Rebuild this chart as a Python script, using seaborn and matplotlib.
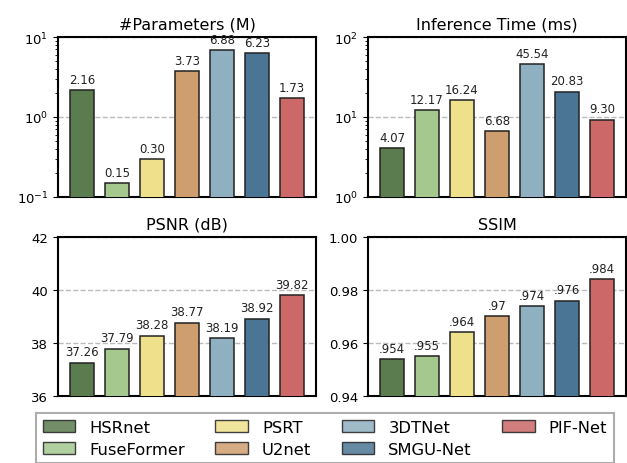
import matplotlib
matplotlib.use("Agg")
import matplotlib.pyplot as plt
import seaborn as sns
import pandas as pd
from matplotlib.patches import Patch

models = ["HSRnet", "FuseFormer", "PSRT", "U2net", "3DTNet", "SMGU-Net", "PIF-Net"]
colors = ["#5b7c4f", "#a4c88e", "#efe08b", "#cf9e6f", "#8eb0c0", "#4b7594", "#cc6868"]

params = [2.16, 0.15, 0.30, 3.73, 6.88, 6.23, 1.73]
inf_time = [4.07, 12.17, 16.24, 6.68, 45.54, 20.83, 9.30]
psnr = [37.26, 37.79, 38.28, 38.77, 38.19, 38.92, 39.82]
ssim = [0.954, 0.955, 0.964, 0.97, 0.974, 0.976, 0.984]

panels = [
    ("#Parameters (M)", params, "log", (0.1, 10), None, lambda v: f"{v:.2f}"),
    ("Inference Time (ms)", inf_time, "log", (1, 100), None, lambda v: f"{v:.2f}"),
    ("PSNR (dB)", psnr, "linear", (36, 42), ["36", "38", "40", "42"], lambda v: f"{v:.2f}"),
    ("SSIM", ssim, "linear", (0.94, 1.0), ["0.94", "0.96", "0.98", "1.00"], lambda v: str(v).lstrip("0")),
]

fig = plt.figure(figsize=(6.27, 4.64), dpi=100)
positions = [
    [0.0925, 0.5733, 0.4115, 0.3448],
    [0.5869, 0.5733, 0.4115, 0.3448],
    [0.0925, 0.1444, 0.4115, 0.3427],
    [0.5869, 0.1444, 0.4115, 0.3427],
]

for pos, (title, vals, scale, ylim, ticks, fmt) in zip(positions, panels):
    ax = fig.add_axes(pos)
    df = pd.DataFrame({"model": models, "value": vals})
    sns.barplot(data=df, x="model", y="value", hue="model", palette=colors,
                saturation=1, width=0.7, edgecolor="#222222", linewidth=1.1,
                legend=False, ax=ax, zorder=3)
    ax.set_yscale(scale)
    ax.set_ylim(*ylim)
    ax.set_xlim(-0.685, 6.685)
    if ticks is not None:
        ax.set_yticks([float(t) for t in ticks])
        ax.set_yticklabels(ticks)
    ax.yaxis.grid(True, which="major", linestyle="--", color="#bbbbbb", linewidth=1, zorder=0)
    ax.set_axisbelow(True)
    ax.set_xticks([])
    ax.set_xlabel("")
    ax.set_ylabel("")
    ax.set_title(title, fontsize=11.5, pad=6)
    ax.tick_params(axis="y", labelsize=9.5)
    for s in ax.spines.values():
        s.set_linewidth(1.5)
    for i, v in enumerate(vals):
        ax.annotate(fmt(v), (i, v), xytext=(0, 3), textcoords="offset points",
                    ha="center", va="bottom", fontsize=8.5, color="#222222")

handles = [Patch(facecolor=c, edgecolor="#222222", alpha=0.85, label=m) for m, c in zip(models, colors)]
leg = fig.legend(handles=handles, loc="upper left", bbox_to_anchor=(36 / 627, 1 - 414 / 464),
                 ncol=4, fontsize=11.8, frameon=True, fancybox=False,
                 edgecolor="#999999", columnspacing=1.85, handlelength=2.0,
                 handletextpad=0.85, borderaxespad=0, labelspacing=0.45)
leg.get_frame().set_linewidth(1.5)

fig.savefig("out.png", dpi=100)
